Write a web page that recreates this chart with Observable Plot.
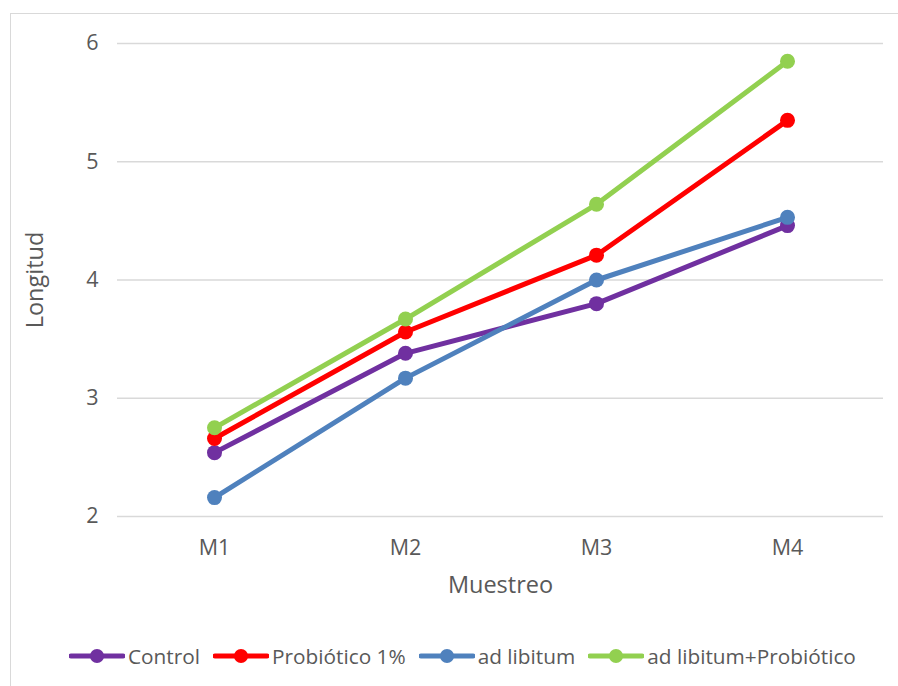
<!DOCTYPE html>
<html>
<head>
<meta charset="utf-8">
<script src="https://cdn.jsdelivr.net/npm/d3@7"></script>
<script src="https://cdn.jsdelivr.net/npm/@observablehq/plot@0.6"></script>
<style>
  html, body { margin: 0; padding: 0; background: #fff; overflow: hidden; width: 898px; height: 686px; }
  #frame { position: absolute; left: 10px; top: 13px; width: 920px; height: 720px; border: 1.5px solid #d9d9d9; box-sizing: border-box; }
  #chart { position: absolute; left: 0; top: 0; }
  #legend { position: absolute; left: 69px; top: 642px; display: flex; align-items: center; font-family: "Open Sans", sans-serif; font-size: 20.8px; color: #595959; white-space: nowrap; }
  .item { display: flex; align-items: center; margin-right: 13px; }
  .item svg { margin-right: 3px; }
</style>
</head>
<body>
<div id="frame"></div>
<div id="chart"></div>
<div id="legend"></div>
<script>
// Sampling points (x axis)
const muestreos = ["M1", "M2", "M3", "M4"];
// Treatments, in drawing / legend order
const series = ["Control", "Probiótico 1%", "ad libitum", "ad libitum+Probiótico"];
const colors = ["#7030A0", "#FF0000", "#4F81BD", "#92D050"];
// Mean length per sampling
const control = [2.54, 3.38, 3.80, 4.46];
const probiotico = [2.66, 3.56, 4.21, 5.35];
const adLibitum = [2.16, 3.17, 4.00, 4.53];
const adLibitumProbiotico = [2.75, 3.67, 4.64, 5.85];
const yTicks = [2, 3, 4, 5, 6];

const values = [control, probiotico, adLibitum, adLibitumProbiotico];
const rows = series.map((s, i) => muestreos.map((m, j) => ({serie: s, muestreo: m, longitud: values[i][j]})));

const seriesMarks = rows.flatMap((data) => [
  Plot.line(data, {x: "muestreo", y: "longitud", stroke: "serie", strokeWidth: 5, strokeLinejoin: "round", strokeLinecap: "round"}),
  Plot.dot(data, {x: "muestreo", y: "longitud", fill: "serie", r: 7.5, stroke: "none"})
]);

const chart = Plot.plot({
  width: 898,
  height: 620,
  marginTop: 43,
  marginBottom: 104,
  marginLeft: 117,
  marginRight: 15,
  style: {fontFamily: "Open Sans, sans-serif", color: "#595959", background: "transparent", overflow: "visible"},
  x: {type: "point", domain: muestreos, padding: 0.5},
  y: {domain: [2, 6]},
  color: {domain: series, range: colors},
  marks: [
    Plot.gridY(yTicks, {stroke: "#d9d9d9", strokeOpacity: 1, strokeWidth: 1.5}),
    Plot.axisX({tickSize: 0, tickPadding: 23, fontSize: 21.5, label: null}),
    Plot.axisY(yTicks, {tickSize: 0, tickPadding: 19, fontSize: 21.5, tickFormat: (d) => String(d), label: null}),
    Plot.text(["Muestreo"], {frameAnchor: "bottom", dy: 69, fontSize: 23.5, textAnchor: "middle", lineAnchor: "middle", fill: "#595959"}),
    Plot.text(["Longitud"], {frameAnchor: "left", dx: -82, rotate: -90, fontSize: 23.5, textAnchor: "middle", lineAnchor: "middle", fill: "#595959"}),
    ...seriesMarks
  ]
});
document.getElementById("chart").append(chart);

// Legend below the chart
const legend = d3.select("#legend");
series.forEach((s, i) => {
  const item = legend.append("div").attr("class", "item");
  const svg = item.append("svg").attr("width", 56).attr("height", 18);
  svg.append("line").attr("x1", 2).attr("x2", 54).attr("y1", 9).attr("y2", 9)
    .attr("stroke", colors[i]).attr("stroke-width", 5).attr("stroke-linecap", "round");
  svg.append("circle").attr("cx", 28).attr("cy", 9).attr("r", 7).attr("fill", colors[i]);
  item.append("span").text(s);
});
</script>
</body>
</html>
